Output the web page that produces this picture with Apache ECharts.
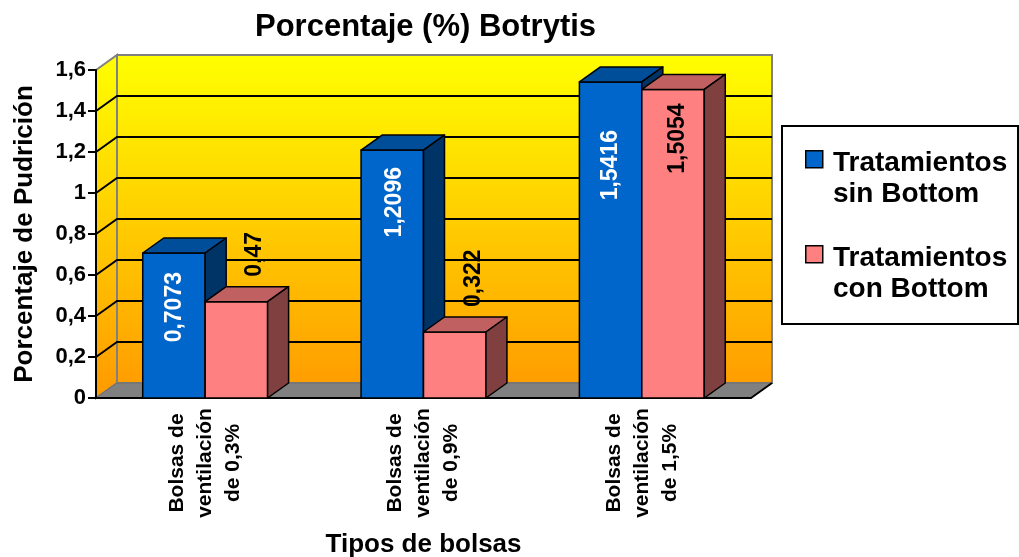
<!DOCTYPE html>
<html>
<head>
<meta charset="utf-8">
<title>Porcentaje (%) Botrytis</title>
<script src="https://cdn.jsdelivr.net/npm/echarts@6/dist/echarts.min.js"></script>
<style>
html, body { margin: 0; padding: 0; background: #fff; }
#chart { width: 1019px; height: 557px; }
</style>
</head>
<body>
<div id="chart"></div>
<script>
// data
const categories = [
  'Bolsas de\nventilación\nde 0,3%',
  'Bolsas de\nventilación\nde 0,9%',
  'Bolsas de\nventilación\nde 1,5%',
];
const seriesNames = ['Tratamientos\nsin Bottom', 'Tratamientos\ncon Bottom'];
const sinBottom = [0.7073, 1.2096, 1.5416];
const conBottom = [0.47, 0.322, 1.5054];
const yTicks = [0, 0.2, 0.4, 0.6, 0.8, 1, 1.2, 1.4, 1.6];

// look of the fake 3D (Excel style)
const DX = 21, DY = -15;
const FONT = 'Arial, "Liberation Sans", sans-serif';
const faces = [
  { front: '#0066CC', top: '#004D99', side: '#003366', label: '#FFFFFF' },
  { front: '#FF8080', top: '#C06060', side: '#804040', label: '#000000' },
];
// where each value label sits: inside = text end `gap` px under the top,
// otherwise text start `gap` px above the top; dx from the front face centre
const labelPlace = [
  [{ inside: true, gap: 19, dx: 1 }, { inside: true, gap: 17, dx: 2 }, { inside: true, gap: 48, dx: 0 }],
  [{ inside: false, gap: 25, dx: 18 }, { inside: false, gap: 25, dx: 19 }, { inside: true, gap: 14, dx: 5 }],
];

const fmt = v => String(+(+v).toFixed(4)).replace('.', ',');

/** back wall, left wall, floor and gridlines */
function renderWalls(params, api) {
  const cs = params.coordSys;
  const x0 = cs.x, x1 = cs.x + cs.width;
  const yTop = cs.y, yBot = cs.y + cs.height;
  const grad = new echarts.graphic.LinearGradient(0, yTop + DY, 0, yBot, [
    { offset: 0, color: '#FFFF00' },
    { offset: 1, color: '#FF9900' },
  ], true);
  const wallLine = { stroke: '#808080', lineWidth: 2 };
  const children = [
    { type: 'polygon', shape: { points: [[x0, yTop], [x0 + DX, yTop + DY], [x0 + DX, yBot + DY], [x0, yBot]] },
      style: { fill: grad, ...wallLine } },
    { type: 'rect', shape: { x: x0 + DX, y: yTop + DY, width: cs.width, height: cs.height },
      style: { fill: grad, ...wallLine } },
  ];
  yTicks.slice(1, -1).forEach(v => {
    const y = api.coord([0, v])[1];
    children.push({ type: 'polyline', shape: { points: [[x0, y], [x0 + DX, y + DY], [x1 + DX, y + DY]] },
      style: { stroke: '#000', lineWidth: 2, fill: null } });
  });
  children.push(
    { type: 'polygon', shape: { points: [[x0, yBot], [x1, yBot], [x1 + DX, yBot + DY], [x0 + DX, yBot + DY]] },
      style: { fill: '#808080', stroke: '#6e6e6e', lineWidth: 1 } },
    { type: 'line', shape: { x1: x1, y1: yBot, x2: x1 + DX, y2: yBot + DY },
      style: { stroke: '#000', lineWidth: 2 } }
  );
  return { type: 'group', children };
}

/** one 3D bar: front, top and side faces plus its value label */
function barRenderer(k) {
  return function (params, api) {
    const idx = api.value(0), val = api.value(1);
    const base = api.coord([idx, 0]);
    const yt = api.coord([idx, val])[1];
    const yb = base[1];
    const bw = api.size([1, 0])[0] * 0.286;
    const xl = k === 0 ? base[0] - bw : base[0];
    const xr = xl + bw;
    const c = faces[k];
    const edge = { stroke: '#000', lineWidth: 1.5, lineJoin: 'round' };
    const p = labelPlace[k][params.dataIndex];
    return {
      type: 'group',
      children: [
        { type: 'rect', shape: { x: xl, y: yt, width: bw, height: yb - yt }, style: { fill: c.front, ...edge } },
        { type: 'polygon', shape: { points: [[xl, yt], [xr, yt], [xr + DX, yt + DY], [xl + DX, yt + DY]] },
          style: { fill: c.top, ...edge } },
        { type: 'polygon', shape: { points: [[xr, yt], [xr + DX, yt + DY], [xr + DX, yb + DY], [xr, yb]] },
          style: { fill: c.side, ...edge } },
        {
          type: 'text',
          x: (xl + xr) / 2 + p.dx,
          y: p.inside ? yt + p.gap : yt - p.gap,
          rotation: Math.PI / 2,
          style: {
            text: fmt(val),
            align: p.inside ? 'right' : 'left',
            verticalAlign: 'middle',
            font: 'bold 23px ' + FONT,
            fill: c.label,
          },
        },
      ],
    };
  };
}

const chart = echarts.init(document.getElementById('chart'));

const legendItems = [];
seriesNames.forEach((name, k) => {
  const top = 150 + k * 95;
  legendItems.push(
    { type: 'rect', left: 805, top: top, shape: { width: 17, height: 17 },
      style: { fill: faces[k].front, stroke: '#000', lineWidth: 1.5 } },
    { type: 'text', left: 833, top: top - 2,
      style: { text: name, font: 'bold 28px ' + FONT, lineHeight: 31, fill: '#000' } }
  );
});

chart.setOption({
  backgroundColor: '#fff',
  animation: false,
  title: {
    text: 'Porcentaje (%) Botrytis',
    left: 250,
    top: 7,
    textStyle: { fontFamily: FONT, fontWeight: 'bold', fontSize: 31, color: '#000' },
  },
  grid: { left: 96, right: 268, top: 70, bottom: 159, containLabel: false, outerBoundsMode: 'none' },
  xAxis: {
    type: 'category',
    data: categories,
    name: 'Tipos de bolsas',
    nameLocation: 'middle',
    nameGap: 134,
    nameMoveOverlap: false,
    nameTextStyle: { fontFamily: FONT, fontWeight: 'bold', fontSize: 26, color: '#000' },
    axisLine: { lineStyle: { color: '#000', width: 2 } },
    axisTick: { length: 8, lineStyle: { color: '#000', width: 2 } },
    axisLabel: {
      rotate: 90, align: 'center', margin: 65,
      fontFamily: FONT, fontWeight: 'bold', fontSize: 21, lineHeight: 28, color: '#000',
    },
    splitLine: { show: false },
  },
  yAxis: {
    type: 'value',
    min: 0, max: 1.6, interval: 0.2,
    name: 'Porcentaje de Pudrición',
    nameLocation: 'middle',
    nameGap: 58,
    nameMoveOverlap: false,
    nameTextStyle: { fontFamily: FONT, fontWeight: 'bold', fontSize: 26, color: '#000' },
    axisLine: { show: true, lineStyle: { color: '#000', width: 2 } },
    axisTick: { show: true, length: 8, lineStyle: { color: '#000', width: 2 } },
    axisLabel: {
      margin: 10, fontFamily: FONT, fontWeight: 'bold', fontSize: 22, color: '#000',
      formatter: v => String(+v.toFixed(1)).replace('.', ','),
    },
    splitLine: { show: false },
  },
  graphic: [
    { type: 'rect', left: 781, top: 125, shape: { width: 236, height: 198 },
      style: { fill: '#fff', stroke: '#000', lineWidth: 2 } },
    ...legendItems,
  ],
  series: [
    { type: 'custom', name: 'walls', z: -1, silent: true, data: [[0, 0]], renderItem: renderWalls },
    { type: 'custom', name: seriesNames[0], z: 2, data: sinBottom.map((v, i) => [i, v]),
      encode: { x: 0, y: 1 }, renderItem: barRenderer(0) },
    { type: 'custom', name: seriesNames[1], z: 2, data: conBottom.map((v, i) => [i, v]),
      encode: { x: 0, y: 1 }, renderItem: barRenderer(1) },
  ],
});

window.addEventListener('resize', () => chart.resize());
</script>
</body>
</html>
